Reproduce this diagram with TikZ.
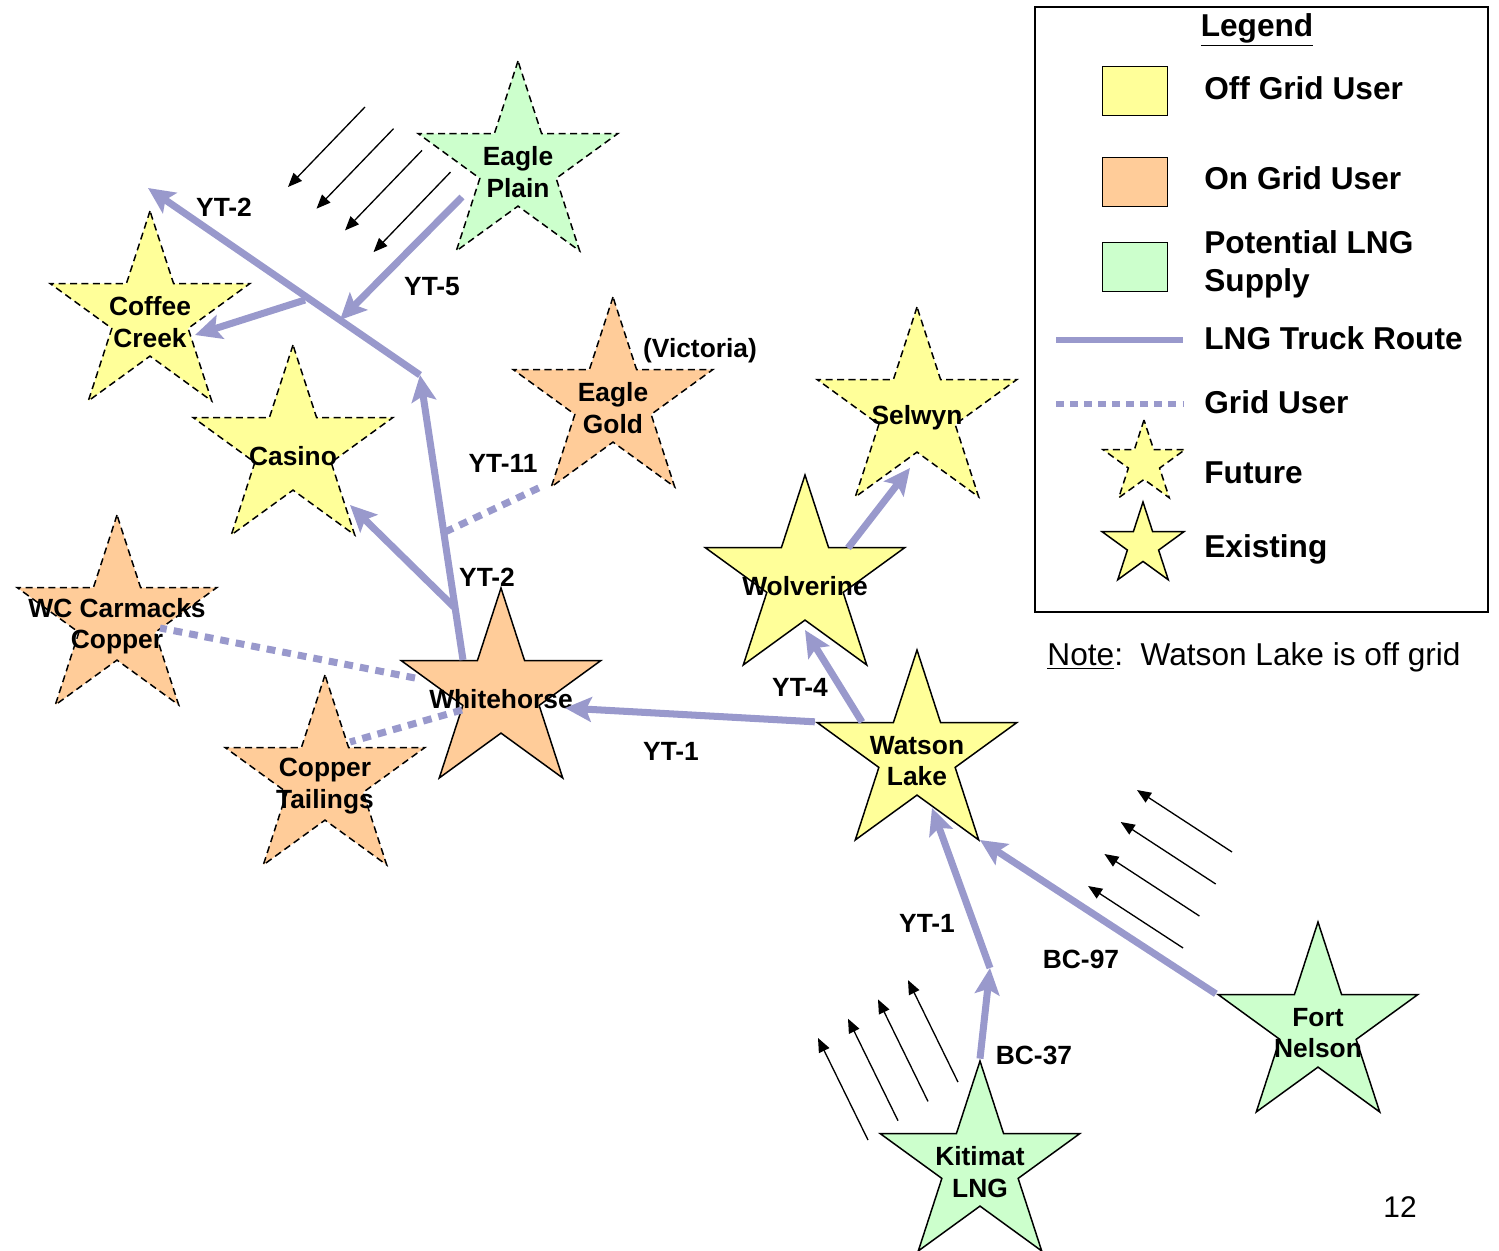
\documentclass[tikz,border=0pt]{standalone}
\usepackage{fontspec}
\setmainfont{Liberation Sans}
\usepackage{tikz}
\usetikzlibrary{arrows.meta, shapes.geometric, calc}
\definecolor{offgrid}{RGB}{255, 255, 153}
\definecolor{ongrid}{RGB}{255, 204, 153}
\definecolor{lngsupply}{RGB}{204, 255, 204}
\definecolor{truckroute}{RGB}{153, 153, 204}

\begin{document}
\begin{tikzpicture}[x=0.02cm, y=-0.02cm,
    site/.style={star, star points=5, star point ratio=2.618, minimum size=4.2cm, inner sep=0pt, draw=black, line width=0.85pt},
    existing/.style={site},
    future/.style={site, dash pattern=on 4pt off 2.5pt},
    sitename/.style={font=\fontsize{15}{18}\selectfont\bfseries, align=center, yshift=-3.5pt},
    route/.style={line width=4pt, truckroute, -{Stealth[length=15pt, width=14pt, inset=3pt]}},
    griduse/.style={line width=4pt, truckroute, dash pattern=on 5pt off 4pt},
    roadlbl/.style={font=\fontsize{15}{18}\selectfont\bfseries},
    flow/.style={line width=0.75pt, -{Triangle[length=8pt, width=6.5pt]}},
    swatch/.style={rectangle, draw=black, line width=1pt, minimum width=1.3cm, minimum height=0.98cm, inner sep=0pt},
    legtext/.style={font=\fontsize{18}{21.6}\selectfont\bfseries, anchor=base west, align=left, inner sep=0pt}
]
\useasboundingbox (0,0) rectangle (1499,1251);

% Off grid users
\node[future, fill=offgrid, label={[sitename]center:Coffee\\Creek}] (cc) at (150,316) {};
\node[future, fill=offgrid, label={[sitename]center:Casino}] (cas) at (293,450) {};
\node[future, fill=offgrid, label={[sitename]center:Selwyn}] (sel) at (917,412) {};
\node[existing, fill=offgrid, label={[sitename]center:Wolverine}] (wv) at (805,580) {};
\node[existing, fill=offgrid, label={[sitename]center:Watson\\Lake}] (wl) at (917,755) {};

% On grid users
\node[future, fill=ongrid, label={[sitename]center:WC Carmacks\\Copper}] (wcc) at (117,620) {};
\node[future, fill=ongrid, label={[sitename]center:Copper\\Tailings}] (ct) at (325,780) {};
\node[future, fill=ongrid, label={[sitename]center:Eagle\\Gold}] (eg) at (613,402) {};
\node[existing, fill=ongrid, label={[sitename]center:Whitehorse}] (wh) at (501,693) {};

% LNG supply
\node[future, fill=lngsupply, label={[sitename]center:Eagle\\Plain}] (ep) at (518,166) {};
\node[existing, fill=lngsupply, label={[sitename]center:Fort\\Nelson}] (fn) at (1318,1027) {};
\node[existing, fill=lngsupply, label={[sitename]center:Kitimat\\LNG}] (kit) at (980,1166) {};

% Route junctions
\coordinate (j1) at (455,608);
\coordinate (j2) at (420,375);
\coordinate (j3) at (305,300);
\coordinate (j4) at (340,320);
\coordinate (j5) at (445,532);
\coordinate (yt2end) at (148,188);
\coordinate (kl) at (990,968);

% Truck routes
\draw[route] ($(wh)+(-38,-33)$) -- (j2);
\draw[route] (j1) -- ($(cas)+(57,55)$);
\draw[route] (j2) -- (yt2end);
\draw[route] (j3) -- ($(cc)+(45,19)$);
\draw[route] ($(ep)+(-56,31)$) -- (j4);
\draw[route] (wl.outer point 2) -- ($(wh)+(64,15)$);
\draw[route] ($(wl)+(-55,-33)$) -- ($(wv)+(0,50)$);
\draw[route] ($(wv)+(43,-32)$) -- ($(sel)+(-7,56)$);
\draw[route] (kit.outer point 1) -- (kl);
\draw[route] (kl) -- ($(wl)+(15,53)$);
\draw[route] (fn.outer point 2) -- ($(wl)+(63,85)$);

% Grid users
\draw[griduse] (j5) -- ($(eg)+(-68,83)$);
\draw[griduse] ($(wh)+(-86,-15)$) -- ($(wcc)+(43,8)$);
\draw[griduse] ($(wh)+(-39,17)$) -- ($(ct)+(25,-38)$);

% Road names
\node[roadlbl] (yt2a) at (224,207) {YT-2};
\node[roadlbl] (yt5) at (432,287) {YT-5};
\node[roadlbl] (vic) at (700,351) {(Victoria)};
\node[roadlbl] (yt11) at (503,463) {YT-11};
\node[roadlbl] (yt2b) at (487,577) {YT-2};
\node[roadlbl] (yt4) at (800,687) {YT-4};
\node[roadlbl] (yt1a) at (671,751) {YT-1};
\node[roadlbl] (yt1b) at (927,923) {YT-1};
\node[roadlbl] (bc97) at (1081,959) {BC-97};
\node[roadlbl] (bc37) at (1034,1055) {BC-37};

% Supply direction
\foreach \i in {0,...,3} {
    \draw[flow] (365+28.5*\i, 107+21.7*\i) -- ++(-77,80);
    \draw[flow] (1232-16.3*\i, 852+32*\i) -- ++(-95,-62);
    \draw[flow] (868+30*\i, 1140-19.3*\i) -- ++(-50,-102);
}

% Legend
\draw[line width=1pt] (1035,7) rectangle (1488,612);
\node[font=\fontsize{18}{21.6}\selectfont\bfseries, anchor=base] (legtitle) at (1257,36) {\underline{Legend}};
\node[swatch, fill=offgrid] (swoff) at (1135,91) {};
\node[swatch, fill=ongrid] (swon) at (1135,182) {};
\node[swatch, fill=lngsupply] (swlng) at (1135,267) {};
\draw[truckroute, line width=3.5pt] (1056,340) -- (1183,340);
\draw[truckroute, line width=3.5pt, dash pattern=on 4.5pt off 3.5pt] (1056,404) -- (1183,404);
\node[future, fill=offgrid, minimum size=1.72cm] (legfut) at (1144,463) {};
\node[existing, fill=offgrid, minimum size=1.72cm] (legex) at (1143,545) {};
\node[legtext] (toff) at (1204,99) {Off Grid User};
\node[legtext] (ton) at (1204,189) {On Grid User};
\node[legtext, anchor=west] (tlng) at (1204,264) {Potential LNG\\Supply};
\node[legtext] (troute) at (1204,349) {LNG Truck Route};
\node[legtext] (tgrid) at (1204,413) {Grid User};
\node[legtext] (tfut) at (1204,483) {Future};
\node[legtext] (tex) at (1204,557) {Existing};

% Note
\node[font=\fontsize{18}{21.6}\selectfont] (note) at (1254,657) {\underline{Note}:~~Watson Lake is off grid};
\node[font=\fontsize{17}{20}\selectfont] (pgnum) at (1400,1207) {12};

\end{tikzpicture}
\end{document}
